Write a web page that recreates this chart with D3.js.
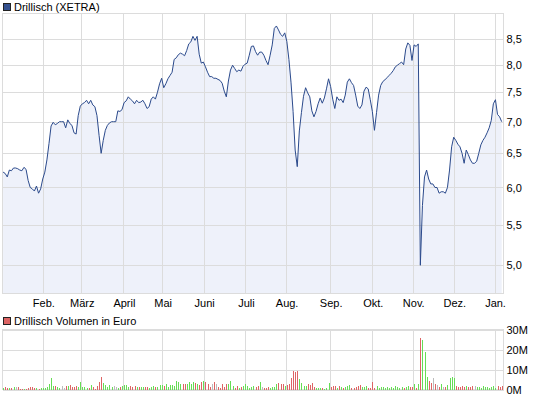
<!DOCTYPE html>
<html>
<head>
<meta charset="utf-8">
<script src="https://cdn.jsdelivr.net/npm/d3@7"></script>
<style>
    body { margin: 0; background: #fff; }
    svg { display: block; font-family: "Liberation Sans", Arial, sans-serif; font-size: 11px; }
</style>
</head>
<body>
<svg id="chart" width="545" height="398"></svg>
<script>
//Schlusskurse, ein Wert pro Handelstag
let prices = [
    6.22, 6.2, 6.15, 6.25, 6.24, 6.28, 6.28, 6.27, 6.25, 6.24,
    6.29, 6.26, 6.1, 6.0, 5.98, 5.95, 6.02, 5.92, 5.98, 6.12,
    6.22, 6.4, 6.65, 6.93, 6.99, 6.95, 6.97, 7.0, 7.0, 7.0,
    6.9, 7.03, 6.97, 6.94, 6.82, 6.8, 7.1, 7.26, 7.3, 7.32,
    7.36, 7.3, 7.36, 7.28, 7.25, 7.1, 6.78, 6.5, 6.7, 6.86,
    6.94, 6.98, 7.0, 7.0, 7.0, 7.18, 7.17, 7.2, 7.32, 7.35,
    7.42, 7.38, 7.35, 7.3, 7.36, 7.32, 7.33, 7.36, 7.3, 7.22,
    7.25, 7.38, 7.42, 7.38, 7.5, 7.65, 7.75, 7.58, 7.65, 7.74,
    7.8, 7.86, 8.1, 8.13, 8.19, 8.22, 8.2, 8.17, 8.27, 8.4,
    8.44, 8.55, 8.47, 8.55, 8.2, 8.03, 8.05, 7.96, 7.86, 7.78,
    7.78, 7.75, 7.75, 7.73, 7.71, 7.66, 7.52, 7.42, 7.7, 7.9,
    7.99, 7.93, 7.87, 7.9, 7.88, 7.97, 8.01, 8.03, 8.18, 8.35,
    8.36, 8.25, 8.18, 8.24, 8.24, 8.18, 8.08, 8.0, 8.18, 8.38,
    8.71, 8.76, 8.68, 8.59, 8.55, 8.62, 8.45, 8.1, 7.68, 7.17,
    6.55, 6.3, 6.85, 7.15, 7.43, 7.58, 7.49, 7.42, 7.18, 7.08,
    7.17, 7.3, 7.4, 7.31, 7.4, 7.56, 7.74, 7.6, 7.38, 7.22,
    7.42, 7.36, 7.38, 7.32, 7.45, 7.68, 7.74, 7.67, 7.62, 7.45,
    7.26, 7.22, 7.28, 7.52, 7.59, 7.56, 7.37, 7.17, 6.86, 7.15,
    7.45, 7.62, 7.69, 7.72, 7.76, 7.8, 7.84, 7.89, 7.96, 7.99,
    8.02, 8.05, 8.0, 8.3, 8.42, 8.37, 8.08, 8.38, 8.35, 8.4,
    5.0, 5.75, 6.15, 6.25, 6.12, 6.05, 6.05, 6.0, 6.0, 5.92,
    5.94, 5.94, 5.92, 6.0, 6.25, 6.6, 6.75, 6.7, 6.64, 6.6,
    6.5, 6.35, 6.55, 6.48, 6.4, 6.35, 6.35, 6.38, 6.5, 6.63,
    6.7, 6.75, 6.82, 6.9, 7.02, 7.3, 7.37, 7.12, 7.08, 7.0
];

//Volumen in Mio. Euro, gleicher Index wie prices
let volumes = [
    0.9, 1.4, 0.9, 0.9, 0.9, 1.4, 1.4, 1.2, 0.5, 0.4,
    0.5, 0.4, 0.7, 1.4, 1.2, 0.9, 0.9, 0.5, 0.9, 0.9,
    0.9, 1.4, 2.9, 6.0, 1.9, 1.9, 1.4, 0.9, 1.9, 0.9,
    1.9, 1.9, 2.2, 1.4, 1.4, 1.9, 1.4, 4.0, 1.4, 1.4,
    0.9, 0.9, 2.2, 1.4, 0.5, 1.9, 4.0, 6.5, 3.4, 2.2,
    1.4, 2.5, 1.4, 1.9, 1.4, 0.9, 1.4, 1.9, 2.2, 2.2,
    1.4, 1.9, 1.4, 1.9, 1.4, 1.4, 1.4, 1.4, 1.4, 1.4,
    0.9, 1.4, 1.9, 1.4, 1.4, 2.4, 2.2, 1.9, 2.9, 1.4,
    2.2, 2.2, 1.9, 4.5, 4.0, 2.6, 2.9, 2.9, 2.9, 3.6,
    2.9, 4.0, 3.4, 2.8, 2.2, 3.6, 4.5, 4.0, 2.6, 1.4,
    2.6, 4.0, 2.6, 1.4, 0.9, 2.6, 1.4, 2.9, 2.9, 4.5,
    1.9, 0.9, 1.9, 0.9, 1.4, 1.9, 2.9, 1.9, 0.9, 1.4,
    1.9, 1.4, 1.9, 3.6, 1.4, 0.9, 0.9, 1.4, 0.9, 1.4,
    1.4, 2.9, 3.2, 2.6, 2.6, 1.9, 2.2, 3.0, 6.0, 9.1,
    8.6, 9.1, 5.2, 3.4, 1.9, 1.9, 2.9, 2.2, 3.4, 1.4,
    0.9, 0.9, 0.9, 0.9, 0.5, 0.9, 3.4, 1.4, 1.9, 1.9,
    0.9, 1.9, 1.4, 0.9, 1.4, 1.9, 2.2, 0.9, 0.9, 1.4,
    1.9, 2.2, 1.4, 1.4, 1.9, 0.9, 0.9, 4.0, 0.9, 1.9,
    0.9, 1.4, 1.4, 0.9, 1.4, 0.9, 1.4, 0.9, 1.9, 1.4,
    0.9, 1.4, 0.9, 1.4, 1.9, 1.4, 1.4, 2.6, 0.9, 2.6,
    25.9, 24.7, 19.0, 6.5, 4.5, 3.1, 5.7, 2.6, 2.2, 1.4,
    2.6, 1.4, 1.4, 2.2, 5.7, 6.5, 6.0, 2.0, 1.4, 1.4,
    1.9, 1.4, 1.9, 1.4, 1.4, 1.9, 1.9, 1.4, 1.4, 0.9,
    1.9, 1.4, 1.4, 0.9, 1.4, 1.9, 0.9, 1.9, 1.4, 1.9
];

//Monatsanfang als Handelstag-Index
let monthStarts = [19.3, 37.7, 57.9, 76.5, 96.4, 116.4, 135.9, 157.0, 177.2, 196.6, 216.3, 235.8];
let monthNames = ["Feb.", "März", "April", "Mai", "Juni", "Juli", "Aug.", "Sep.", "Okt.", "Nov.", "Dez.", "Jan."];
let priceTicks = [5.0, 5.5, 6.0, 6.5, 7.0, 7.5, 8.0, 8.5];
let volumeTicks = [0, 10, 20, 30];

let svg = d3.select("#chart");
let gridColor = "#dcdcdc";

//Plotflächen
let left = 2.5, right = 503.5;
let priceTop = 13.5, priceBottom = 293.5;
let volTop = 329.5, volBottom = 389.5;

let x = d3.scaleLinear().domain([0, prices.length - 1]).range([3.1, 501.7]);
let y = d3.scaleLog().domain([4.68, 9.02]).range([priceBottom, priceTop]);
let yVol = d3.scaleLinear().domain([0, 30]).range([volBottom, volTop]);

//Gitter für beide Panels
function drawGrid(top, bottom, yTicks, yScale) {
    let g = svg.append("g").attr("stroke", gridColor).attr("shape-rendering", "crispEdges");
    yTicks.forEach((t) => {
        let yy = Math.round(yScale(t)) + 0.5;
        g.append("line").attr("x1", left).attr("x2", right).attr("y1", yy).attr("y2", yy);
    })
    monthStarts.forEach((m) => {
        let xx = Math.floor(x(m)) + 0.5;
        g.append("line").attr("x1", xx).attr("x2", xx).attr("y1", top).attr("y2", bottom);
    })
    g.append("rect")
        .attr("x", left).attr("y", top)
        .attr("width", right - left).attr("height", bottom - top)
        .attr("fill", "none");
}

//Kursfläche unter der Linie
let area = d3.area()
    .x((d, i) => x(i))
    .y0(priceBottom)
    .y1((d) => y(d));
svg.append("path")
    .datum(prices)
    .attr("d", area)
    .attr("fill", "#eef1fa");

drawGrid(priceTop, priceBottom, priceTicks, y);

let line = d3.line()
    .x((d, i) => x(i))
    .y((d) => y(d));
svg.append("path")
    .datum(prices)
    .attr("d", line)
    .attr("fill", "none")
    .attr("stroke", "#2b4a8c")
    .attr("stroke-width", 1);

//Achsen Kurs
let priceAxis = svg.append("g")
    .attr("transform", `translate(${right},0)`)
    .call(d3.axisRight(y).tickValues(priceTicks).tickSize(0).tickPadding(3)
        .tickFormat((d) => d.toFixed(1).replace(".", ",")));

let monthAxis = svg.append("g")
    .attr("transform", `translate(0,${priceBottom})`)
    .call(d3.axisBottom(x).tickValues(monthStarts).tickSize(0).tickPadding(6)
        .tickFormat((d, i) => monthNames[i]));

//Volumen
drawGrid(volTop, volBottom, volumeTicks, yVol);

svg.append("g")
    .attr("shape-rendering", "crispEdges")
    .selectAll("rect")
    .data(volumes)
    .join("rect")
    .attr("x", (d, i) => Math.round(x(i)) - 0.5)
    .attr("width", 1)
    .attr("y", (d) => yVol(d))
    .attr("height", (d) => volBottom - yVol(d))
    .attr("fill", (d, i) => {
        //Farbe nach Kursveränderung zum Vortag
        if (i === 0 || prices[i] > prices[i - 1]) return "#66dd55";
        if (prices[i] < prices[i - 1]) return "#dd6464";
        return "#bbbbbb";
    });

let volAxis = svg.append("g")
    .attr("transform", `translate(${right},0)`)
    .call(d3.axisRight(yVol).tickValues(volumeTicks).tickSize(0).tickPadding(3)
        .tickFormat((d) => d + "M"));

[priceAxis, monthAxis, volAxis].forEach((a) => {
    a.select(".domain").remove();
    a.selectAll("text").attr("fill", "#000").style("font-size", "11px")
        .style("font-family", '"Liberation Sans", Arial, sans-serif');
})

//Legenden
function legend(yTop, color, label) {
    svg.append("rect")
        .attr("x", 3.5).attr("y", yTop + 0.5)
        .attr("width", 7).attr("height", 7)
        .attr("fill", color).attr("stroke", "#222")
        .attr("shape-rendering", "crispEdges");
    svg.append("text")
        .attr("x", 14).attr("y", yTop + 8)
        .text(label);
}
legend(3, "#34518f", "Drillisch (XETRA)");
legend(317, "#dd6464", "Drillisch Volumen in Euro");
</script>
</body>
</html>
